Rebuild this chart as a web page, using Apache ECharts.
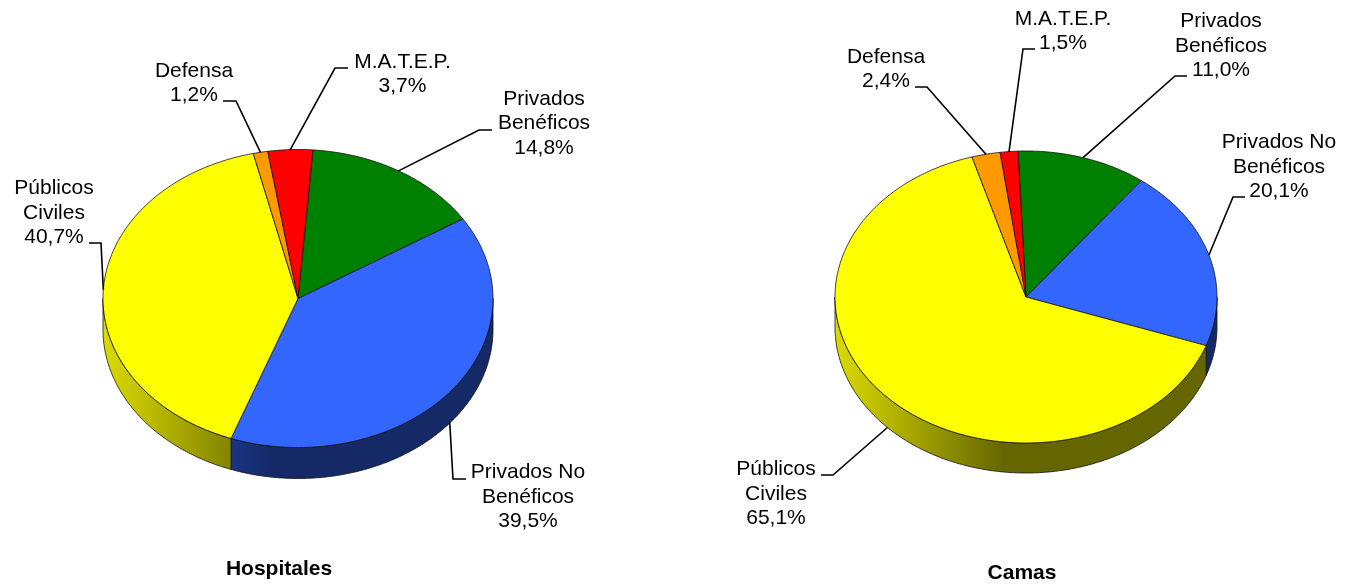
<!DOCTYPE html>
<html>
<head>
<meta charset="utf-8">
<style>html,body{margin:0;padding:0;background:#fff}#c{width:1346px;height:587px}</style>
<script src="https://cdn.jsdelivr.net/npm/echarts@6/dist/echarts.min.js"></script>
</head>
<body>
<div id="c"></div>
<script>
const categories = ['Privados\nBenéficos', 'Privados No\nBenéficos', 'Públicos\nCiviles', 'Defensa', 'M.A.T.E.P.'];
const hospitalesValues = [14.8, 39.5, 40.7, 1.2, 3.7];
const camasValues = [11.0, 20.1, 65.1, 2.4, 1.5];
const chartTitles = ['Hospitales', 'Camas'];

const sliceColors = ['#008000', '#3366FF', '#FFFF00', '#FF9900', '#FF0000'];
const FONT = '"Liberation Sans", Arial, sans-serif';

// Layout only: ellipse geometry, label block centres and leader elbows/ends
const pieLayouts = [
  { cx: 298, cy: 298.5, rx: 195, ry: 149, depth: 31, start: 4.4,
    labels: [[544, 123.5], [528, 497], [54, 213], [194, 83], [402.5, 74]],
    elbows: [[[479, 130], [492, 130]], [[453, 479], [466, 479]], [[101, 243], [89, 243]], [[236, 101], [223, 101]], [[335, 68], [348, 68]]] },
  { cx: 1026, cy: 297, rx: 191, ry: 146, depth: 30, start: -2.4,
    labels: [[1221, 46], [1279, 167], [776, 494], [886, 69], [1063, 31]],
    elbows: [[[1175, 76], [1187, 76]], [[1233, 197], [1245, 197]], [[833, 475], [821, 475]], [[927, 87], [915, 87]], [[1023, 49], [1035, 49]]] }
];

function rad(d) { return d * Math.PI / 180; }
function pt(L, t, dy) {
  return [L.cx + L.rx * Math.sin(rad(t)), L.cy - L.ry * Math.cos(rad(t)) + (dy || 0)];
}
function arc(L, a, b, dy) {
  const n = Math.max(2, Math.ceil(Math.abs(b - a) / 0.75));
  const out = [];
  for (let i = 0; i <= n; i++) out.push(pt(L, a + (b - a) * i / n, dy));
  return out;
}
function shade(hex, f) {
  const v = parseInt(hex.slice(1), 16);
  const c = [(v >> 16) & 255, (v >> 8) & 255, v & 255].map(x => Math.round(x * f));
  return 'rgb(' + c.join(',') + ')';
}

function makeSeries(values, L, idx) {
  const total = values.reduce((s, v) => s + v, 0);
  return {
    type: 'custom',
    name: chartTitles[idx],
    coordinateSystem: 'none',
    silent: true,
    animation: false,
    data: values.map((v, i) => ({ name: categories[i], value: [v] })),
    renderItem(params, api) {
      const i = params.dataIndex;
      let before = 0;
      for (let k = 0; k < i; k++) before += values[k];
      const a = L.start + before / total * 360;
      const b = a + api.value(0) / total * 360;
      const mid = (a + b) / 2;
      const children = [];
      // side wall, only the front half of the disc
      const wa = Math.max(a, 90), wb = Math.min(b, 270);
      if (wb > wa) {
        const col = sliceColors[i];
        children.push({
          type: 'polygon', z2: 1,
          shape: { points: arc(L, wa, wb, 0).concat(arc(L, wb, wa, L.depth)) },
          style: {
            fill: new echarts.graphic.LinearGradient(L.cx - L.rx, 0, L.cx + L.rx, 0, [
              { offset: 0, color: shade(col, 0.86) },
              { offset: 0.44, color: shade(col, 0.4) },
              { offset: 1, color: shade(col, 0.4) }
            ], true),
            stroke: '#111', lineWidth: 0.8
          }
        });
      }
      // top face
      children.push({
        type: 'polygon', z2: 2,
        shape: { points: [[L.cx, L.cy]].concat(arc(L, a, b, 0)) },
        style: { fill: sliceColors[i], stroke: '#111', lineWidth: 0.8, lineJoin: 'round' }
      });
      // leader line from the slice's middle angle
      const front = mid > 90 && mid < 270;
      const anchor = pt(L, mid, front ? L.depth : 0);
      children.push({
        type: 'polyline', z2: 3,
        shape: { points: [anchor].concat(L.elbows[i]) },
        style: { fill: 'none', stroke: '#000', lineWidth: 1.6 }
      });
      // label
      children.push({
        type: 'text', z2: 4,
        style: {
          text: categories[i] + '\n' + api.value(0).toFixed(1).replace('.', ',') + '%',
          x: L.labels[i][0], y: L.labels[i][1],
          align: 'center', verticalAlign: 'middle',
          font: '21px ' + FONT, lineHeight: 24.5, fill: '#000'
        }
      });
      return { type: 'group', children };
    }
  };
}

const chart = echarts.init(document.getElementById('c'), null, { renderer: 'canvas' });
chart.setOption({
  backgroundColor: '#fff',
  animation: false,
  title: [
    { text: chartTitles[0], left: 274, top: 554, textAlign: 'center',
      textStyle: { fontFamily: FONT, fontWeight: 'bold', fontSize: 21, color: '#000' } },
    { text: chartTitles[1], left: 1017, top: 558, textAlign: 'center',
      textStyle: { fontFamily: FONT, fontWeight: 'bold', fontSize: 21, color: '#000' } }
  ],
  series: [makeSeries(hospitalesValues, pieLayouts[0], 0), makeSeries(camasValues, pieLayouts[1], 1)]
});
</script>
</body>
</html>
